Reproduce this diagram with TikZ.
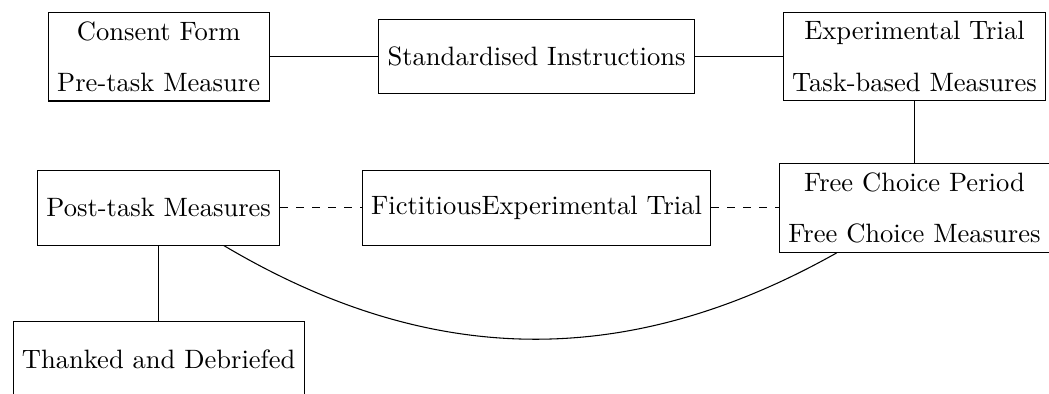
\documentclass[tikz,border=0pt]{standalone}
\usepackage{tikz}
\usetikzlibrary{positioning}

\begin{document}
\begin{tikzpicture}[node distance=2cm and 5cm, on grid,
  box/.style={draw, minimum height=28pt, align=center}]
\useasboundingbox (-2.10,0.751) rectangle (11.78,-4.462);
\node[box] (consent) {Consent Form\\[7.5pt]Pre-task Measure};
\node[box, right=of consent] (instr) {Standardised Instructions};
\node[box, right=of instr] (trial) {Experimental Trial\\[7.5pt]Task-based Measures};
\node[box, below=of consent] (post) {Post-task Measures};
\node[box, below=of instr] (fict) {FictitiousExperimental Trial};
\node[box, below=of trial] (free) {Free Choice Period\\[7.5pt]Free Choice Measures};
\node[box, below=of post] (thanks) {Thanked and Debriefed};
\draw (consent) -- (instr);
\draw (instr) -- (trial);
\draw (trial) -- (free);
\draw[dashed] (post) -- (fict);
\draw[dashed] (fict) -- (free);
\draw (post) -- (thanks);
\draw (post) to[bend right] (free);
\end{tikzpicture}
\end{document}
